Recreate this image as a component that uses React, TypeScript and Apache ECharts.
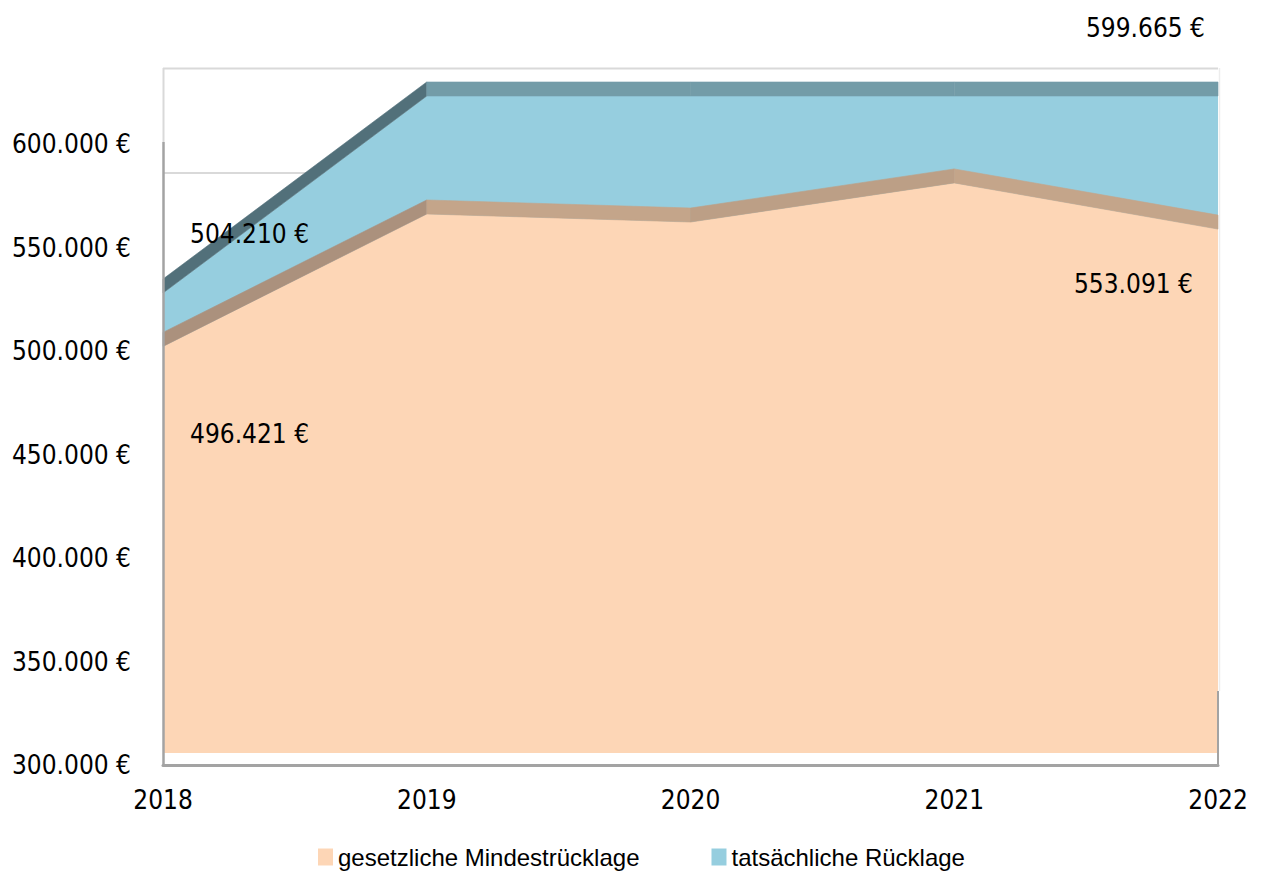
import React, { useEffect, useRef } from "react";
import * as echarts from "echarts";

// ---- data ----
const years = ["2018", "2019", "2020", "2021", "2022"];
const legalMinimum = [496421, 560400, 556500, 575400, 553091];
const actualReserve = [522200, 617400, 617400, 617400, 617400];
const yTickValues = [300000, 350000, 400000, 450000, 500000, 550000, 600000];
const seriesNames = ["gesetzliche Mindestrücklage", "tatsächliche Rücklage"];
const shownLegalLabels = [496421, 553091];
const shownActualLabels = [504210, 599665];

const Y_MIN = 300000;
const Y_MAX = 620000;
const DEPTH = 14;
const FONT = "'DejaVu Sans Condensed', 'Liberation Sans', Arial, sans-serif";
const LEGEND_FONT = "'Liberation Sans', Arial, sans-serif";

const fmt = (v: number) =>
  String(Math.round(v)).replace(/\B(?=(\d{3})+(?!\d))/g, ".") + " €";

const hex = (c: string) => [1, 3, 5].map((i) => parseInt(c.slice(i, i + 2), 16));
const mix = (a: string, b: string, t: number) => {
  const A = hex(a), B = hex(b);
  return (
    "rgb(" + A.map((x, i) => Math.round(x + (B[i] - x) * t)).join(",") + ")"
  );
};

const bandSeries = (values: number[], light: string, dark: string, z: number) => ({
  type: "custom",
  xAxisIndex: 1,
  yAxisIndex: 1,
  z,
  silent: true,
  clip: false,
  data: values.map((v, i) => [i, v]),
  renderItem: (params: any, api: any) => {
    const i = params.dataIndex;
    if (i >= values.length - 1) return { type: "group", children: [] };
    const p0 = api.coord([i, values[i]]);
    const p1 = api.coord([i + 1, values[i + 1]]);
    const rising = p1[1] < p0[1];
    const ang =
      (Math.abs(Math.atan2(p1[1] - p0[1], p1[0] - p0[0])) * 180) / Math.PI;
    const t = rising ? Math.min(1, ang / 30) : 0;
    const color = mix(light, dark, t);
    return {
      type: "polygon",
      shape: {
        points: [
          [p0[0], p0[1]],
          [p1[0], p1[1]],
          [p1[0], p1[1] - DEPTH],
          [p0[0], p0[1] - DEPTH],
        ],
      },
      style: { fill: color, stroke: color, lineWidth: 0.6 },
    };
  },
});

export default function App() {
  const ref = useRef<HTMLDivElement>(null);
  useEffect(() => {
    if (!ref.current) return;
    const chart = echarts.init(ref.current, undefined, { renderer: "svg" });
    const labelStyle = (text: string, align: string) => ({
      text,
      fill: "#000",
      font: "26px " + FONT,
      align,
      textAlign: align,
      verticalAlign: "middle",
      textVerticalAlign: "middle",
    });
    chart.setOption({
      animation: false,
      backgroundColor: "#ffffff",
      grid: [
        { left: 163, right: 43, top: 765 - 662.4, bottom: 874 - 765 },
        { left: 163, right: 43, top: 753 - 662.4, bottom: 874 - 753 },
      ],
      xAxis: [
        {
          type: "category",
          gridIndex: 0,
          data: years,
          boundaryGap: false,
          axisLine: { show: true, lineStyle: { color: "#A3A3A3", width: 3 } },
          axisTick: { show: false },
          axisLabel: { color: "#000", fontSize: 26, fontFamily: FONT, margin: 22 },
          splitLine: { show: false },
        },
        {
          type: "category",
          gridIndex: 1,
          data: years,
          boundaryGap: false,
          show: false,
        },
      ],
      yAxis: [
        {
          type: "value",
          gridIndex: 0,
          min: Y_MIN,
          max: Y_MAX,
          interval: 50000,
          axisLine: { show: false },
          axisTick: { show: false },
          splitLine: { show: false },
          axisLabel: {
            color: "#000",
            fontSize: 26,
            fontFamily: FONT,
            margin: 32,
            formatter: (v: number) => (yTickValues.includes(v) ? fmt(v) : ""),
          },
        },
        {
          type: "value",
          gridIndex: 1,
          min: Y_MIN,
          max: Y_MAX,
          show: false,
          splitLine: { show: false },
        },
      ],
      legend: {
        left: 318,
        top: 844,
        padding: 0,
        itemWidth: 15,
        itemHeight: 17,
        itemGap: 72,
        icon: "rect",
        data: seriesNames,
        textStyle: {
          fontSize: 24,
          lineHeight: 26,
          fontFamily: LEGEND_FONT,
          color: "#000",
        },
      },
      graphic: [
        { type: "line", z: 0, shape: { x1: 163, y1: 68.5, x2: 1218, y2: 68.5 }, style: { stroke: "#D9D9D9", lineWidth: 2 } },
        { type: "line", z: 0, shape: { x1: 163.5, y1: 68, x2: 163.5, y2: 142 }, style: { stroke: "#D9D9D9", lineWidth: 2 } },
        { type: "line", z: 0, shape: { x1: 163, y1: 173, x2: 1218, y2: 173 }, style: { stroke: "#D9D9D9", lineWidth: 2 } },
        { type: "line", z: 0, shape: { x1: 1219.5, y1: 68, x2: 1219.5, y2: 691 }, style: { stroke: "#EDEDED", lineWidth: 1.5 } },
        { type: "line", z: 20, shape: { x1: 163.5, y1: 142, x2: 163.5, y2: 766 }, style: { stroke: "#A3A3A3", lineWidth: 2.5 } },
        { type: "line", z: 20, shape: { x1: 1218, y1: 691, x2: 1218, y2: 766 }, style: { stroke: "#A3A3A3", lineWidth: 2 } },
        { type: "text", z: 30, x: 1205, y: 28, style: labelStyle(fmt(shownActualLabels[1]), "right") },
        { type: "text", z: 30, x: 190, y: 234, style: labelStyle(fmt(shownActualLabels[0]), "left") },
        { type: "text", z: 30, x: 190, y: 434, style: labelStyle(fmt(shownLegalLabels[0]), "left") },
        { type: "text", z: 30, x: 1193, y: 284, style: labelStyle(fmt(shownLegalLabels[1]), "right") },
      ],
      series: [
        {
          name: seriesNames[1],
          type: "line",
          xAxisIndex: 1,
          yAxisIndex: 1,
          z: 2,
          data: actualReserve,
          symbol: "none",
          color: "#96CEDF",
          itemStyle: { color: "#96CEDF" },
          lineStyle: { width: 0, opacity: 0 },
          areaStyle: { color: "#96CEDF", opacity: 1, origin: "start" },
          silent: true,
        },
        bandSeries(actualReserve, "#739CA8", "#52707A", 3),
        {
          name: seriesNames[0],
          type: "line",
          xAxisIndex: 1,
          yAxisIndex: 1,
          z: 4,
          data: legalMinimum,
          symbol: "none",
          color: "#FDD6B6",
          itemStyle: { color: "#FDD6B6" },
          lineStyle: { width: 0, opacity: 0 },
          areaStyle: { color: "#FDD6B6", opacity: 1, origin: "start" },
          silent: true,
        },
        bandSeries(legalMinimum, "#C4A58A", "#A88F7B", 5),
      ],
    });
    return () => chart.dispose();
  }, []);
  return (
    <div
      ref={ref}
      style={{ position: "fixed", left: 0, top: 0, width: 1261, height: 874 }}
    />
  );
}
